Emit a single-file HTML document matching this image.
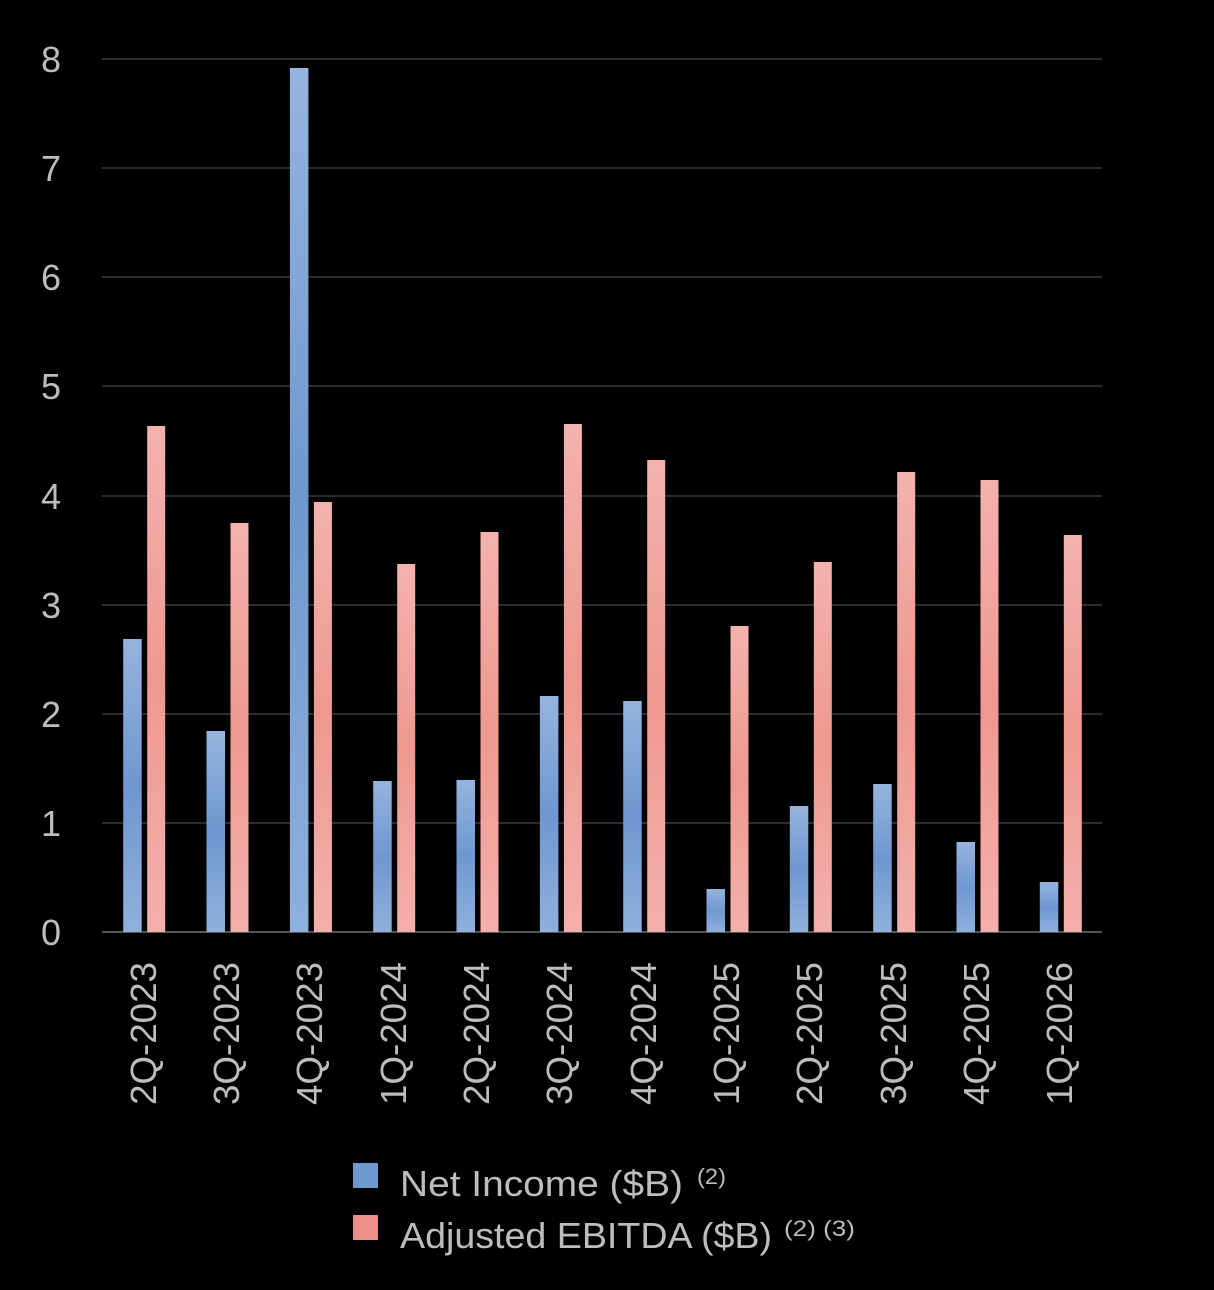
<!DOCTYPE html><html><head><style>body{margin:0;background:#000}svg{display:block}</style></head><body>
<svg width="1214" height="1290" xmlns="http://www.w3.org/2000/svg" font-family="Liberation Sans, sans-serif">
<defs>
<linearGradient id="b" x1="0" y1="0" x2="0" y2="1"><stop offset="0" stop-color="#95b4de"/><stop offset="0.5" stop-color="#6f97d0"/><stop offset="1" stop-color="#8fb0dc"/></linearGradient>
<linearGradient id="r" x1="0" y1="0" x2="0" y2="1"><stop offset="0" stop-color="#f4b2ae"/><stop offset="0.5" stop-color="#ee9890"/><stop offset="1" stop-color="#f4b0ac"/></linearGradient>
</defs>
<rect width="1214" height="1290" fill="#000"/>
<g stroke="#3a3a3a" stroke-width="1.5">
<line x1="102" x2="1102" y1="59" y2="59"/><line x1="102" x2="1102" y1="168" y2="168"/><line x1="102" x2="1102" y1="277" y2="277"/><line x1="102" x2="1102" y1="386" y2="386"/><line x1="102" x2="1102" y1="496" y2="496"/><line x1="102" x2="1102" y1="605" y2="605"/><line x1="102" x2="1102" y1="714" y2="714"/><line x1="102" x2="1102" y1="823" y2="823"/>
</g>
<line x1="102" x2="1102" y1="932" y2="932" stroke="#555" stroke-width="2"/>
<g fill="#bdbdbd" font-size="36" text-anchor="middle">
<text x="51" y="72">8</text><text x="51" y="181">7</text><text x="51" y="290">6</text><text x="51" y="399">5</text><text x="51" y="509">4</text><text x="51" y="618">3</text><text x="51" y="727">2</text><text x="51" y="836">1</text><text x="51" y="945">0</text>
</g>
<g fill="url(#b)">
<rect x="123.2" y="639" width="18.5" height="293"/>
<rect x="206.5" y="731" width="18.5" height="201"/>
<rect x="289.9" y="68" width="18.5" height="864"/>
<rect x="373.2" y="781" width="18.5" height="151"/>
<rect x="456.5" y="780" width="18.5" height="152"/>
<rect x="539.9" y="696" width="18.5" height="236"/>
<rect x="623.2" y="701" width="18.5" height="231"/>
<rect x="706.5" y="889" width="18.5" height="43"/>
<rect x="789.8" y="806" width="18.5" height="126"/>
<rect x="873.2" y="784" width="18.5" height="148"/>
<rect x="956.5" y="842" width="18.5" height="90"/>
<rect x="1039.8" y="882" width="18.5" height="50"/>
</g>
<g fill="url(#r)">
<rect x="147.2" y="426" width="18" height="506"/>
<rect x="230.5" y="523" width="18" height="409"/>
<rect x="313.9" y="502" width="18" height="430"/>
<rect x="397.2" y="564" width="18" height="368"/>
<rect x="480.5" y="532" width="18" height="400"/>
<rect x="563.9" y="424" width="18" height="508"/>
<rect x="647.2" y="460" width="18" height="472"/>
<rect x="730.5" y="626" width="18" height="306"/>
<rect x="813.8" y="562" width="18" height="370"/>
<rect x="897.2" y="472" width="18" height="460"/>
<rect x="980.5" y="480" width="18" height="452"/>
<rect x="1063.8" y="535" width="18" height="397"/>
</g>
<g fill="#bdbdbd" font-size="36" text-anchor="end">
<text transform="translate(156,962) rotate(-90)" textLength="143" lengthAdjust="spacingAndGlyphs">2Q-2023</text>
<text transform="translate(239,962) rotate(-90)" textLength="143" lengthAdjust="spacingAndGlyphs">3Q-2023</text>
<text transform="translate(322,962) rotate(-90)" textLength="143" lengthAdjust="spacingAndGlyphs">4Q-2023</text>
<text transform="translate(406,962) rotate(-90)" textLength="143" lengthAdjust="spacingAndGlyphs">1Q-2024</text>
<text transform="translate(489,962) rotate(-90)" textLength="143" lengthAdjust="spacingAndGlyphs">2Q-2024</text>
<text transform="translate(572,962) rotate(-90)" textLength="143" lengthAdjust="spacingAndGlyphs">3Q-2024</text>
<text transform="translate(656,962) rotate(-90)" textLength="143" lengthAdjust="spacingAndGlyphs">4Q-2024</text>
<text transform="translate(739,962) rotate(-90)" textLength="143" lengthAdjust="spacingAndGlyphs">1Q-2025</text>
<text transform="translate(822,962) rotate(-90)" textLength="143" lengthAdjust="spacingAndGlyphs">2Q-2025</text>
<text transform="translate(906,962) rotate(-90)" textLength="143" lengthAdjust="spacingAndGlyphs">3Q-2025</text>
<text transform="translate(989,962) rotate(-90)" textLength="143" lengthAdjust="spacingAndGlyphs">4Q-2025</text>
<text transform="translate(1072,962) rotate(-90)" textLength="143" lengthAdjust="spacingAndGlyphs">1Q-2026</text>
</g>
<rect x="353" y="1163" width="25" height="25" fill="#6f97d0"/>
<rect x="353" y="1215" width="25" height="25" fill="#ee8f87"/>
<g fill="#bdbdbd">
<text x="400" y="1196" font-size="36" textLength="283" lengthAdjust="spacingAndGlyphs">Net Income ($B)</text>
<text x="697" y="1184" font-size="22" textLength="29" lengthAdjust="spacingAndGlyphs">(2)</text>
<text x="400" y="1248" font-size="36" textLength="372" lengthAdjust="spacingAndGlyphs">Adjusted EBITDA ($B)</text>
<text x="784" y="1236" font-size="22" textLength="71" lengthAdjust="spacingAndGlyphs">(2) (3)</text>
</g>
</svg>
</body></html>
